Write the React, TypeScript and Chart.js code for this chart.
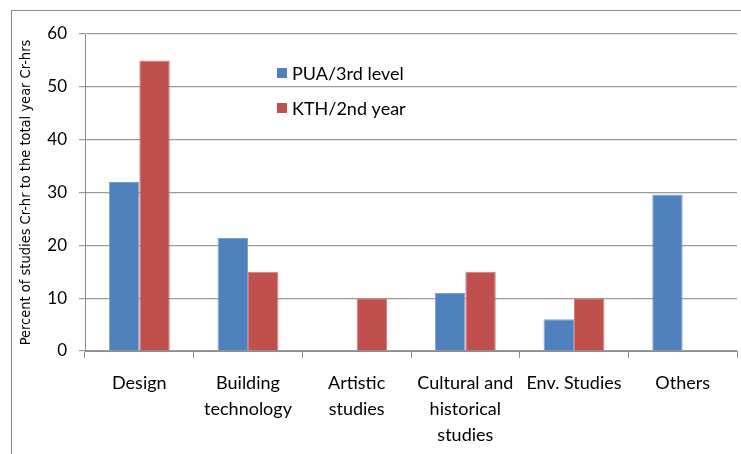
import React, { useEffect, useRef } from "react";
import { Chart, registerables } from "chart.js";

Chart.register(...registerables);

const categories: (string | string[])[] = [
  "Design",
  ["Building", "technology"],
  ["Artistic", "studies"],
  ["Cultural and", "historical", "studies"],
  "Env. Studies",
  "Others",
];
const puaValues: (number | null)[] = [32, 21.4, null, 11, 6, 29.6];
const kthValues: (number | null)[] = [55, 15, 10, 15, 10, null];
const seriesNames = ["PUA/3rd level", "KTH/2nd year"];
const yTicks = [0, 10, 20, 30, 40, 50, 60];

const FONT = "Lato, 'Open Sans', sans-serif";

const insideLegend = {
  id: "insideLegend",
  afterDraw(chart: any) {
    const { ctx, chartArea } = chart;
    ctx.save();
    ctx.font = `18px ${FONT}`;
    ctx.textBaseline = "middle";
    chart.data.datasets.forEach((ds: any, i: number) => {
      const x = chartArea.left + 192;
      const y = chartArea.top + 39 + i * 35;
      ctx.fillStyle = ds.backgroundColor;
      ctx.fillRect(x, y - 5, 10, 10);
      ctx.fillStyle = "#000";
      ctx.textAlign = "left";
      ctx.fillText(ds.label, x + 15, y + 1);
    });
    ctx.restore();
  },
};

export default function App() {
  const ref = useRef<HTMLCanvasElement>(null);
  useEffect(() => {
    document.body.style.margin = "0";
    const chart = new Chart(ref.current!, {
      type: "bar",
      data: {
        labels: categories,
        datasets: [
          {
            label: seriesNames[0],
            data: puaValues,
            backgroundColor: "#4F81BD",
            borderColor: "#7FA0CF",
            borderWidth: 1,
            categoryPercentage: 0.56,
            barPercentage: 1,
          },
          {
            label: seriesNames[1],
            data: kthValues,
            backgroundColor: "#C0504D",
            borderColor: "#D27D7B",
            borderWidth: 1,
            categoryPercentage: 0.56,
            barPercentage: 1,
          },
        ],
      },
      options: {
        animation: false,
        responsive: false,
        layout: { padding: { left: 18, top: 34, right: 4, bottom: 0 } },
        plugins: { legend: { display: false }, tooltip: { enabled: false } },
        scales: {
          x: {
            grid: {
              display: true,
              drawOnChartArea: false,
              tickLength: 7,
              color: "#8c8c8c",
              offset: true,
            },
            border: { color: "#8c8c8c", width: 1 },
            ticks: {
              color: "#000",
              font: { family: FONT, size: 18, lineHeight: 1.45 },
              maxRotation: 0,
              autoSkip: false,
              padding: 12,
            },
            afterFit(scale: any) {
              scale.height = 454 - 351;
            },
          },
          y: {
            min: 0,
            max: 60,
            afterBuildTicks(scale: any) {
              scale.ticks = yTicks.map((v) => ({ value: v }));
            },
            grid: { color: "#9a9a9a", tickLength: 6, lineWidth: 1.2 },
            border: { color: "#8c8c8c", width: 1 },
            ticks: {
              color: "#000",
              font: { family: FONT, size: 17 },
              padding: 12,
            },
            title: {
              display: true,
              text: "Percent of studies Cr-hr to the total year Cr-hrs",
              color: "#000",
              font: { family: "'Liberation Sans Narrow', 'DejaVu Sans Condensed', Lato, sans-serif", size: 14.5 },
              padding: 0,
            },
            afterFit(scale: any) {
              scale.width = 85 - 18;
            },
          },
        },
      },
      plugins: [insideLegend],
    });
    return () => chart.destroy();
  }, []);
  return (
    <div style={{ position: "relative", width: 741, height: 454, background: "#fff" }}>
      <div
        style={{
          position: "absolute",
          left: 11,
          top: 10,
          width: 740,
          height: 450,
          border: "1px solid #8a8a8a",
          boxSizing: "border-box",
        }}
      />
      <canvas ref={ref} width={741} height={454} style={{ position: "absolute", left: 0, top: 0 }} />
    </div>
  );
}
